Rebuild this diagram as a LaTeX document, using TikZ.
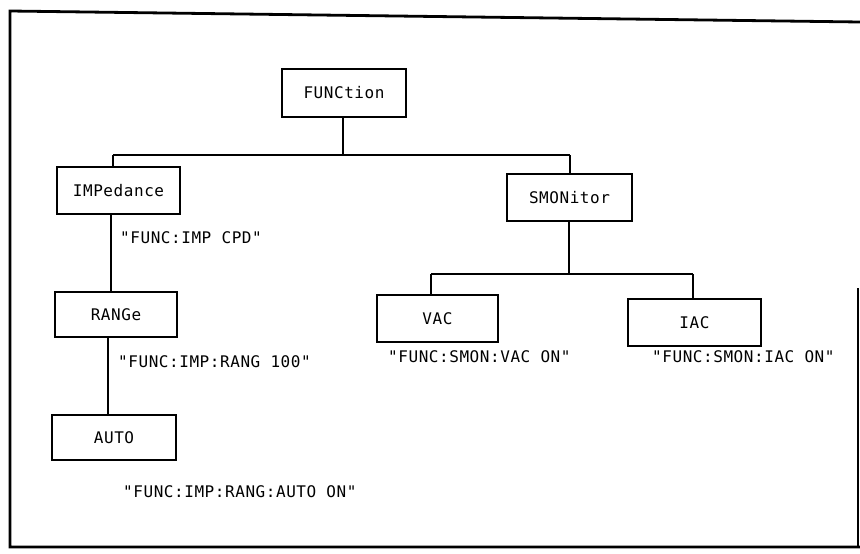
\documentclass[tikz,border=0pt]{standalone}
\usepackage{fontspec}
\newfontfamily\plotfont[LetterSpace=3.5]{DejaVu Sans Mono}
\begin{document}
\begin{tikzpicture}[x=1pt,y=-1pt,
  box/.style={draw,line width=1.3pt,rectangle,inner sep=0pt,font=\plotfont\fontsize{16}{16}\selectfont},
  lbl/.style={anchor=west,inner sep=0pt,font=\plotfont\fontsize{16}{16}\selectfont},
  wire/.style={line width=1.2pt}]
\useasboundingbox (0,0) rectangle (860,554);
% frame
\draw[line width=2.8pt] (860,22) -- (10,11) -- (10,547) -- (860,547);
\draw[line width=1.4pt] (858,288) -- (858,547);
% nodes
\node[box,minimum width=124pt,minimum height=48pt] (F) at (344,93) {FUNCtion};
\node[box,minimum width=123pt,minimum height=47pt] (IMP) at (118.5,190.5) {IMPedance};
\node[box,minimum width=122pt,minimum height=45pt] (RNG) at (116,314.5) {RANGe};
\node[box,minimum width=124pt,minimum height=45pt] (AUTO) at (114,437.5) {AUTO};
\node[box,minimum width=125pt,minimum height=47pt] (SMON) at (569.5,197.5) {SMONitor};
\node[box,minimum width=121pt,minimum height=47pt] (VAC) at (437.5,318.5) {VAC};
\node[box,minimum width=133pt,minimum height=47pt] (IAC) at (694.5,322.5) {IAC};
% labels
\node[lbl] (l1) at (120,238) {"FUNC:IMP CPD"};
\node[lbl] (l2) at (118,362) {"FUNC:IMP:RANG 100"};
\node[lbl] (l3) at (123,492) {"FUNC:IMP:RANG:AUTO ON"};
\node[lbl] (l4) at (388,357) {"FUNC:SMON:VAC ON"};
\node[lbl] (l5) at (652,357) {"FUNC:SMON:IAC ON"};
% connectors
\coordinate (b1) at (343,155);
\coordinate (b1L) at (113,155);
\coordinate (b1R) at (570,155);
\draw[wire] (F.south -| b1) -- (b1);
\draw[wire] (b1L) -- (b1R);
\draw[wire] (b1L) -- (b1L |- IMP.north);
\draw[wire] (b1R) -- (b1R |- SMON.north);
\coordinate (c1) at (111,0);
\draw[wire] (IMP.south -| c1) -- (RNG.north -| c1);
\coordinate (c2) at (108,0);
\draw[wire] (RNG.south -| c2) -- (AUTO.north -| c2);
\coordinate (b2) at (569,274);
\coordinate (b2L) at (431,274);
\coordinate (b2R) at (693,274);
\draw[wire] (SMON.south -| b2) -- (b2);
\draw[wire] (b2L) -- (b2R);
\draw[wire] (b2L) -- (b2L |- VAC.north);
\draw[wire] (b2R) -- (b2R |- IAC.north);
\end{tikzpicture}
\end{document}
